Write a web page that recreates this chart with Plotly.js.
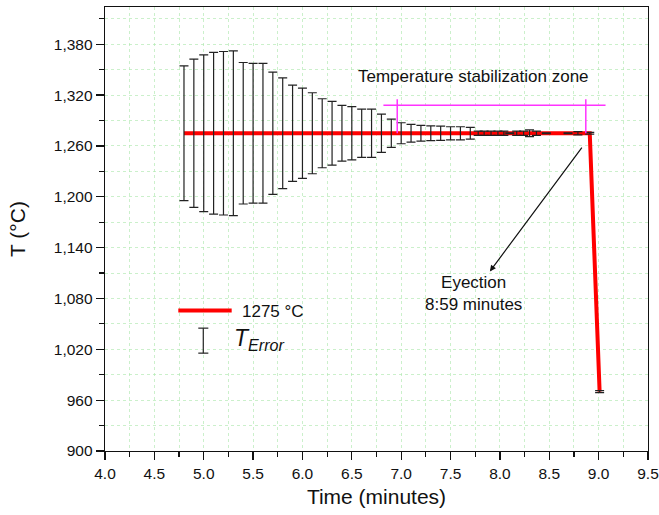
<!DOCTYPE html>
<html>
<head>
<meta charset="utf-8">
<script src="https://cdn.plot.ly/plotly-3.0.1.min.js"></script>
<style>html,body{margin:0;padding:0;background:#fff;}#chart{width:659px;height:515px;}</style>
</head>
<body>
<div id="chart"></div>
<script>
// Measured series (time in minutes, temperature in °C, error half-range in °C)
const time = [4.8, 4.9, 5.0, 5.1, 5.2, 5.3, 5.4, 5.5, 5.6, 5.7, 5.8, 5.9, 6.0, 6.1, 6.2, 6.3, 6.4, 6.5, 6.6, 6.7,
              6.8, 6.9, 7.0, 7.1, 7.2, 7.3, 7.4, 7.5, 7.6, 7.7,
              7.78, 7.84, 7.91, 7.98, 8.04, 8.10, 8.17, 8.24, 8.30, 8.37, 8.47, 8.69, 8.79, 8.91, 9.01];
const temp = [1275, 1275, 1275, 1275, 1275, 1275, 1275, 1275, 1275, 1275, 1275, 1275, 1275, 1275, 1275, 1275, 1275, 1275, 1275, 1275,
              1275, 1275, 1275, 1275, 1275, 1275, 1275, 1275, 1275, 1275,
              1275, 1275, 1275, 1275, 1275, 1275, 1275, 1275, 1275, 1275, 1275, 1275, 1275, 1275, 970];
const tError = [79.6, 87.5, 92.6, 95.5, 96.5, 97.3, 83.5, 82.5, 82.5, 72.1, 65.4, 56.8, 53.3, 47.8, 40.7, 37.7, 33.0, 31.4, 28.5, 28.5,
                22.6, 16.7, 12.4, 10.4, 9.2, 8.8, 8.5, 7.7, 7.7, 6.9,
                2.4, 2.4, 2.4, 2.4, 2.4, 0.6, 2.4, 2.4, 4.0, 2.4, 0.6, 0.6, 2.0, 1.0, 1.2];

// Stabilization zone bracket
const zoneStart = 6.96, zoneEnd = 8.87, zoneLineFrom = 6.82, zoneLineTo = 9.07;
const zoneLevel = 1308, zoneTop = 1315, zoneBase = 1275;

// Ejection label position and the point its arrow comes from
const ejectLabel = [7.733, 1086];
const ejectTail = [8.83, 1258];

const xTickVals = [4.0, 4.5, 5.0, 5.5, 6.0, 6.5, 7.0, 7.5, 8.0, 8.5, 9.0, 9.5];
const yTickVals = [900, 960, 1020, 1080, 1140, 1200, 1260, 1320, 1380];

const FONT = 'Arial, "Liberation Sans", Helvetica, sans-serif';
const PINK = '#ff33ff';

const traces = [
  {
    x: time, y: temp, type: 'scatter', mode: 'lines',
    line: {color: '#ff0000', width: 4},
    hoverinfo: 'skip', showlegend: false
  },
  {
    x: time, y: temp, type: 'scatter', mode: 'markers',
    marker: {size: 1, color: 'rgba(0,0,0,0)'},
    error_y: {type: 'data', array: tError, visible: true, color: '#222222', thickness: 1.2, width: 4.5},
    hoverinfo: 'skip', showlegend: false
  }
];

const zoneShapes = [
  {type: 'line', xref: 'x', yref: 'y', x0: zoneLineFrom, x1: zoneLineTo, y0: zoneLevel, y1: zoneLevel, line: {color: PINK, width: 1.5}},
  {type: 'line', xref: 'x', yref: 'y', x0: zoneStart, x1: zoneStart, y0: zoneBase, y1: zoneTop, line: {color: PINK, width: 1.5}},
  {type: 'line', xref: 'x', yref: 'y', x0: zoneEnd, x1: zoneEnd, y0: zoneBase, y1: zoneTop, line: {color: PINK, width: 1.5}}
];

// Custom legend (paper coordinates)
const legendShapes = [
  {type: 'line', xref: 'paper', yref: 'paper', x0: 0.135, x1: 0.2333, y0: 0.3162, y1: 0.3162, line: {color: '#ff0000', width: 4}},
  {type: 'line', xref: 'paper', yref: 'paper', x0: 0.181, x1: 0.181, y0: 0.2204, y1: 0.2767, line: {color: '#222', width: 1.2}},
  {type: 'line', xref: 'paper', yref: 'paper', x0: 0.1718, x1: 0.1903, y0: 0.2767, y1: 0.2767, line: {color: '#222', width: 1.2}},
  {type: 'line', xref: 'paper', yref: 'paper', x0: 0.1718, x1: 0.1903, y0: 0.2204, y1: 0.2204, line: {color: '#222', width: 1.2}}
];

const annotations = [
  {xref: 'x', yref: 'y', x: 7.733, y: 1341.7, text: 'Temperature stabilization zone', showarrow: false,
   font: {family: FONT, size: 17, color: '#111'}, xanchor: 'center', yanchor: 'middle'},
  {xref: 'x', yref: 'y', axref: 'x', ayref: 'y',
   x: ejectTail[0], y: ejectTail[1], ax: ejectLabel[0], ay: ejectLabel[1],
   text: 'Eyection<br>8:59 minutes', showarrow: true, arrowside: 'start',
   arrowhead: 2, startarrowhead: 2, arrowsize: 1, startarrowsize: 1, arrowwidth: 1.2, arrowcolor: '#111',
   standoff: 0, startstandoff: 0,
   font: {family: FONT, size: 17, color: '#111'}, xanchor: 'center', yanchor: 'middle'},
  {xref: 'paper', yref: 'paper', x: 0.2486, y: 0.314, text: '1275 °C', showarrow: false,
   font: {family: FONT, size: 17, color: '#111'}, xanchor: 'left', yanchor: 'middle'},
  {xref: 'paper', yref: 'paper', x: 0.2333, y: 0.252, text: '<i>T</i><sub><i>Error</i></sub>', showarrow: false,
   font: {family: FONT, size: 23, color: '#111'}, xanchor: 'left', yanchor: 'middle'}
];

const gridColor = 'rgba(175,232,175,0.65)';

const layout = {
  width: 659, height: 515,
  margin: {l: 105, r: 11, t: 7, b: 64, pad: 0},
  paper_bgcolor: '#ffffff', plot_bgcolor: '#ffffff',
  showlegend: false,
  font: {family: FONT, color: '#111'},
  xaxis: {
    range: [4.0, 9.5], tickvals: xTickVals, tickformat: '.1f',
    showgrid: false, zeroline: false,
    showline: true, linecolor: '#111', linewidth: 1.3, mirror: true,
    ticks: 'outside', ticklen: 8, tickwidth: 1.3, tickcolor: '#111',
    tickfont: {family: FONT, size: 15.5, color: '#111'},
    minor: {dtick: 0.25, tick0: 4.0, ticks: 'outside', ticklen: 5, tickwidth: 1.2, tickcolor: '#111',
            showgrid: true, gridcolor: gridColor, griddash: 'dot', gridwidth: 1},
    title: {text: 'Time (minutes)', font: {family: FONT, size: 21, color: '#111'}, standoff: 8}
  },
  yaxis: {
    range: [900, 1424], tickvals: yTickVals, tickformat: ',d',
    showgrid: false, zeroline: false,
    showline: true, linecolor: '#111', linewidth: 1.3, mirror: true,
    ticks: 'outside', ticklen: 8, tickwidth: 1.3, tickcolor: '#111',
    tickfont: {family: FONT, size: 15.5, color: '#111'},
    minor: {dtick: 30, tick0: 900, ticks: 'outside', ticklen: 5, tickwidth: 1.2, tickcolor: '#111',
            showgrid: true, gridcolor: gridColor, griddash: 'dot', gridwidth: 1},
    title: {text: 'T (°C)', font: {family: FONT, size: 21, color: '#111'}, standoff: 22}
  },
  shapes: zoneShapes.concat(legendShapes),
  annotations: annotations
};

Plotly.newPlot('chart', traces, layout, {displayModeBar: false, staticPlot: true});
</script>
</body>
</html>
